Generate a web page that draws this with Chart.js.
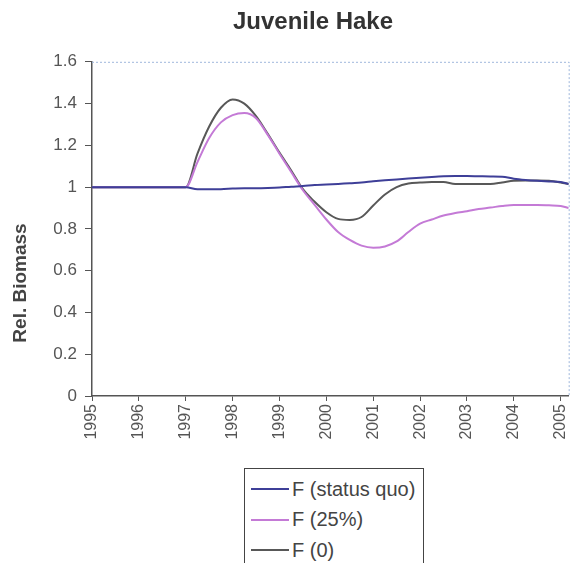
<!DOCTYPE html>
<html>
<head>
<meta charset="utf-8">
<script src="https://cdn.jsdelivr.net/npm/chart.js@4"></script>
<style>
  body { margin: 0; background: #fff; overflow: hidden; }
  #wrap { position: relative; width: 583px; height: 563px; }
  #legend {
    position: absolute; left: 244px; top: 468px; width: 180px; height: 110px;
    border: 1.5px solid #444; background: #fff; box-sizing: border-box;
    font-family: "Liberation Sans", Arial, sans-serif; font-size: 20px; color: #444;
  }
  .row { display: flex; align-items: center; height: 30.5px; }
  .row:first-child { margin-top: 5px; }
  .swatch { width: 38px; height: 2px; margin-left: 6px; margin-right: 3px; }
</style>
</head>
<body>
<div id="wrap">
  <canvas id="myChart" width="583" height="563"></canvas>
  <div id="legend"></div>
</div>
<script>
var years = [1995, 1995.25, 1995.5, 1995.75, 1996, 1996.25, 1996.5, 1996.75,
  1997, 1997.25, 1997.5, 1997.75, 1998, 1998.25, 1998.5, 1998.75,
  1999, 1999.25, 1999.5, 1999.75, 2000, 2000.25, 2000.5, 2000.75,
  2001, 2001.25, 2001.5, 2001.75, 2002, 2002.25, 2002.5, 2002.75,
  2003, 2003.25, 2003.5, 2003.75, 2004, 2004.25, 2004.5, 2004.75, 2005, 2005.17];

var statusQuo = [1, 1, 1, 1, 1, 1, 1, 1,
  1, 0.99, 0.99, 0.99, 0.993, 0.995, 0.995, 0.996,
  0.998, 1.002, 1.005, 1.01, 1.012, 1.015, 1.019, 1.022,
  1.028, 1.033, 1.037, 1.041, 1.045, 1.049, 1.052, 1.053,
  1.053, 1.052, 1.051, 1.05, 1.04, 1.034, 1.03, 1.027, 1.024, 1.015];

var f25 = [1, 1, 1, 1, 1, 1, 1, 1,
  1, 1.12, 1.235, 1.31, 1.345, 1.355, 1.33, 1.25,
  1.16, 1.072, 0.985, 0.915, 0.845, 0.785, 0.747, 0.72,
  0.71, 0.716, 0.74, 0.785, 0.825, 0.845, 0.864, 0.876,
  0.885, 0.895, 0.902, 0.91, 0.915, 0.915, 0.915, 0.913, 0.91, 0.9];

var f0 = [1, 1, 1, 1, 1, 1, 1, 1,
  1, 1.16, 1.29, 1.38, 1.42, 1.4, 1.34, 1.255,
  1.165, 1.08, 0.99, 0.93, 0.88, 0.848, 0.843, 0.857,
  0.912, 0.965, 1.0, 1.017, 1.022, 1.025, 1.025, 1.015,
  1.015, 1.015, 1.015, 1.022, 1.03, 1.032, 1.032, 1.03, 1.022, 1.015];

var seriesNames = ['F (status quo)', 'F (25%)', 'F (0)'];
var seriesColors = ['#3e3f98', '#c47ad6', '#585858'];
var tickYears = [1995, 1996, 1997, 1998, 1999, 2000, 2001, 2002, 2003, 2004, 2005];
var yTicks = [0, 0.2, 0.4, 0.6, 0.8, 1, 1.2, 1.4, 1.6];

var font = '"Liberation Sans", Arial, sans-serif';

function pts(vals) {
  return years.map(function (x, i) { return { x: x, y: vals[i] }; });
}

// dotted top/right frame + rotated y title
var extras = {
  id: 'extras',
  afterDraw: function (chart) {
    var ctx = chart.ctx, a = chart.chartArea;
    ctx.save();
    ctx.strokeStyle = '#9fb7dc';
    ctx.lineWidth = 1;
    ctx.setLineDash([2, 2]);
    ctx.beginPath();
    ctx.moveTo(a.left, a.top + 0.5);
    ctx.lineTo(a.right + 0.5, a.top + 0.5);
    ctx.lineTo(a.right + 0.5, a.bottom);
    ctx.stroke();
    ctx.restore();

    ctx.save();
    ctx.translate(21, 283);
    ctx.rotate(-Math.PI / 2);
    ctx.fillStyle = '#444';
    ctx.font = 'bold 19px ' + font;
    ctx.textAlign = 'center';
    ctx.textBaseline = 'middle';
    ctx.fillText('Rel. Biomass', 0, 0);
    ctx.restore();
  }
};

var ctx = document.getElementById('myChart').getContext('2d');
var myChart = new Chart(ctx, {
  type: 'line',
  data: {
    datasets: [
      { label: seriesNames[0], data: pts(statusQuo), borderColor: seriesColors[0] },
      { label: seriesNames[1], data: pts(f25), borderColor: seriesColors[1] },
      { label: seriesNames[2], data: pts(f0), borderColor: seriesColors[2] }
    ]
  },
  options: {
    responsive: false,
    animation: false,
    layout: { padding: { left: 48, right: 5, top: 0, bottom: 0 } },
    elements: {
      point: { radius: 0 },
      line: { borderWidth: 2, cubicInterpolationMode: 'monotone', fill: false }
    },
    plugins: {
      legend: { display: false },
      tooltip: { enabled: false },
      title: {
        display: true,
        text: 'Juvenile Hake',
        color: '#333',
        font: { family: font, size: 24, weight: 'bold' },
        padding: { top: 8, bottom: 25 }
      }
    },
    scales: {
      x: {
        type: 'linear',
        min: 1995,
        max: 2005.17,
        afterBuildTicks: function (scale) {
          scale.ticks = tickYears.map(function (v) { return { value: v }; });
        },
        afterFit: function (scale) { scale.height = 167; },
        ticks: {
          color: '#555',
          font: { family: font, size: 16 },
          minRotation: 90,
          maxRotation: 90,
          padding: 3,
          autoSkip: false,
          callback: function (v) { return String(v); }
        },
        grid: { drawOnChartArea: false, tickLength: 5, color: '#555' },
        border: { display: true, color: '#555', width: 1.5 }
      },
      y: {
        min: 0,
        max: 1.6,
        afterBuildTicks: function (scale) {
          scale.ticks = yTicks.map(function (v) { return { value: v }; });
        },
        afterFit: function (scale) { scale.width = 44; },
        ticks: {
          color: '#555',
          font: { family: font, size: 17 },
          padding: 8,
          callback: function (v) { return String(Math.round(v * 10) / 10); }
        },
        grid: { drawOnChartArea: false, tickLength: 7, color: '#555' },
        border: { display: true, color: '#555', width: 1.5 }
      }
    }
  },
  plugins: [extras]
});

var legend = document.getElementById('legend');
myChart.data.datasets.forEach(function (ds) {
  var row = document.createElement('div');
  row.className = 'row';
  var sw = document.createElement('span');
  sw.className = 'swatch';
  sw.style.background = ds.borderColor;
  var tx = document.createElement('span');
  tx.textContent = ds.label;
  row.appendChild(sw);
  row.appendChild(tx);
  legend.appendChild(row);
});
</script>
</body>
</html>
